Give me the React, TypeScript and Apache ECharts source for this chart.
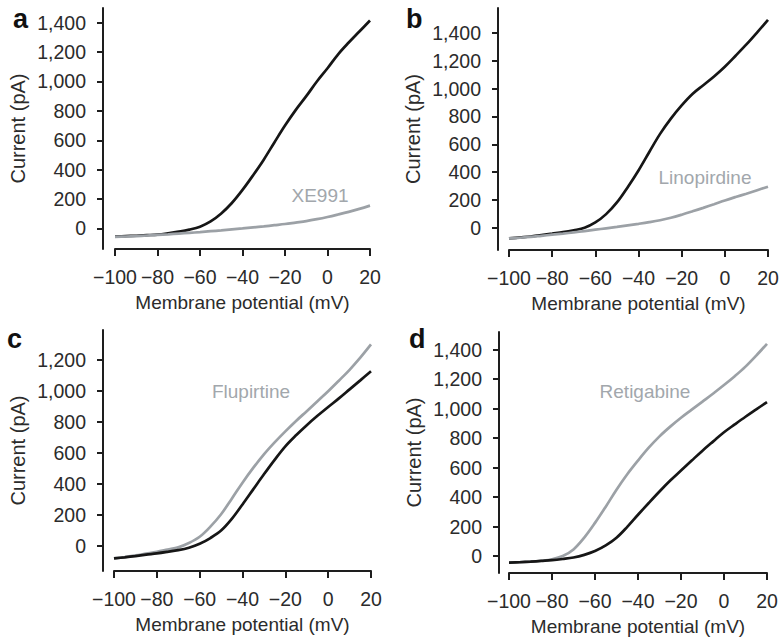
import React, { useEffect, useRef } from "react";
import * as echarts from "echarts";

// Membrane potential (mV) sample points
const V = [-100, -95, -90, -85, -80, -75, -70, -65, -60, -55, -50, -45, -40, -35, -30, -25, -20, -15, -10, -5, 0, 5, 10, 15, 20];

// Panel a
const aControl = [-55, -52, -50, -46, -42, -33, -22, -8, 12, 48, 102, 173, 262, 362, 468, 585, 700, 805, 900, 1000, 1090, 1185, 1265, 1340, 1415];
const aXE991 = [-57, -55, -52, -48, -44, -40, -35, -30, -25, -19, -13, -6, 0, 7, 14, 22, 30, 40, 50, 63, 78, 95, 113, 133, 155];
// Panel b
const bControl = [-77, -70, -63, -52, -42, -32, -18, 0, 38, 98, 182, 292, 412, 545, 675, 785, 880, 962, 1025, 1088, 1158, 1237, 1318, 1405, 1495];
const bLinopirdine = [-77, -72, -66, -58, -50, -42, -33, -24, -14, -4, 6, 17, 28, 40, 54, 72, 94, 118, 143, 169, 196, 221, 245, 270, 295];
// Panel c
const cControl = [-79, -72, -64, -55, -47, -37, -26, -10, 15, 52, 100, 175, 268, 365, 462, 555, 642, 713, 778, 838, 895, 950, 1008, 1066, 1125];
const cFlupirtine = [-79, -70, -60, -48, -36, -22, -8, 20, 60, 125, 205, 305, 408, 503, 590, 667, 738, 805, 868, 932, 996, 1064, 1134, 1212, 1297];
// Panel d
const dControl = [-45, -42, -38, -33, -28, -20, -10, 8, 34, 72, 124, 198, 280, 360, 438, 512, 580, 648, 715, 778, 840, 893, 945, 995, 1045];
const dRetigabine = [-45, -42, -38, -32, -22, 0, 45, 125, 225, 335, 450, 555, 648, 735, 812, 878, 938, 993, 1048, 1103, 1160, 1220, 1285, 1360, 1440];

const yTicksA = [0, 200, 400, 600, 800, 1000, 1200, 1400];
const yTicksB = [0, 200, 400, 600, 800, 1000, 1200, 1400];
const yTicksC = [0, 200, 400, 600, 800, 1000, 1200];
const yTicksD = [0, 200, 400, 600, 800, 1000, 1200, 1400];

const drugNames = ["XE991", "Linopirdine", "Flupirtine", "Retigabine"];
const panelLetters = ["a", "b", "c", "d"];

const FONT = "'Liberation Sans', Arial, Helvetica, sans-serif";
const AXIS_COLOR = "#1e1e1e";
const TEXT_COLOR = "#2b2b2b";
const BLACK = "#161616";
const GRAY = "#9ca1a6";

export default function App() {
  const ref = useRef<HTMLDivElement>(null);

  useEffect(() => {
    if (!ref.current) return;
    const chart = echarts.init(ref.current, undefined, { renderer: "svg" });

    const grids = [
      { left: 115, top: 8, width: 255, height: 241 },
      { left: 509, top: 8, width: 259, height: 242 },
      { left: 114, top: 330, width: 257, height: 241 },
      { left: 509, top: 332, width: 258, height: 241 },
    ];
    const yRanges = [
      [-140, 1500],
      [-160, 1580],
      [-160, 1390],
      [-115, 1520],
    ];
    const yOffsets = [12, 11, 11, 10];
    const yTicks = [yTicksA, yTicksB, yTicksC, yTicksD];

    const pairs = [
      [aControl, aXE991],
      [bControl, bLinopirdine],
      [cControl, cFlupirtine],
      [dControl, dRetigabine],
    ];

    const xAxis = grids.map((_, i) => ({
      type: "value",
      gridIndex: i,
      min: -100,
      max: 20,
      interval: 20,
      name: "Membrane potential (mV)",
      nameLocation: "middle",
      nameGap: 44,
      nameTextStyle: { fontSize: 19, color: TEXT_COLOR, fontFamily: FONT },
      axisLine: { show: true, onZero: false, lineStyle: { color: AXIS_COLOR, width: 2 } },
      axisTick: { show: true, length: 7, lineStyle: { color: AXIS_COLOR, width: 2 } },
      axisLabel: {
        margin: 18,
        fontSize: 19.5,
        color: TEXT_COLOR,
        fontFamily: FONT,
        formatter: (v: number) => String(v).replace("-", "\u2212"),
      },
      splitLine: { show: false },
    }));

    const yAxis = grids.map((_, i) => ({
      type: "value",
      gridIndex: i,
      min: yRanges[i][0],
      max: yRanges[i][1],
      offset: yOffsets[i],
      name: "Current (pA)",
      nameLocation: "middle",
      nameGap: 75,
      nameRotate: 90,
      nameTextStyle: { fontSize: 20, color: TEXT_COLOR, fontFamily: FONT },
      axisLine: { show: true, onZero: false, lineStyle: { color: AXIS_COLOR, width: 2 } },
      axisTick: { show: true, length: 6, customValues: yTicks[i], lineStyle: { color: AXIS_COLOR, width: 2 } },
      axisLabel: {
        margin: 17,
        fontSize: 19.5,
        color: TEXT_COLOR,
        fontFamily: FONT,
        customValues: yTicks[i],
        formatter: (v: number) => v.toLocaleString("en-US"),
      },
      splitLine: { show: false },
    }));

    const series: any[] = [];
    pairs.forEach(([ctrl, drug], i) => {
      series.push({
        type: "line",
        name: "Control " + panelLetters[i],
        xAxisIndex: i,
        yAxisIndex: i,
        data: V.map((v, k) => [v, ctrl[k]]),
        showSymbol: false,
        smooth: 0.35,
        lineStyle: { color: BLACK, width: 2.7 },
        z: 3,
      });
      series.push({
        type: "line",
        name: drugNames[i],
        xAxisIndex: i,
        yAxisIndex: i,
        data: V.map((v, k) => [v, drug[k]]),
        showSymbol: false,
        smooth: 0.35,
        lineStyle: { color: GRAY, width: 2.7 },
        z: i < 2 ? 4 : 2,
      });
    });

    const letterPos = [
      [13, 19],
      [406, 19],
      [7, 339],
      [409, 339],
    ];
    const labelPos = [
      [320, 195],
      [705, 177],
      [251, 391],
      [645, 391],
    ];

    const graphic: any[] = [];
    panelLetters.forEach((l, i) => {
      graphic.push({
        type: "text",
        x: letterPos[i][0],
        y: letterPos[i][1],
        style: {
          text: l,
          fontSize: 27,
          fontWeight: "bold",
          fontFamily: FONT,
          fill: "#111",
          align: "left",
          verticalAlign: "middle",
        },
      });
      graphic.push({
        type: "text",
        x: labelPos[i][0],
        y: labelPos[i][1],
        style: {
          text: drugNames[i],
          fontSize: 19,
          fontFamily: FONT,
          fill: "#a2a7ac",
          align: "center",
          verticalAlign: "middle",
        },
      });
    });

    chart.setOption({
      animation: false,
      backgroundColor: "#ffffff",
      grid: grids.map((g) => ({ ...g, containLabel: false, outerBoundsMode: "none" })),
      xAxis,
      yAxis,
      series,
      graphic,
    });

    return () => chart.dispose();
  }, []);

  return (
    <div
      ref={ref}
      style={{ position: "fixed", left: 0, top: 0, width: 781, height: 639, background: "#fff" }}
    />
  );
}
